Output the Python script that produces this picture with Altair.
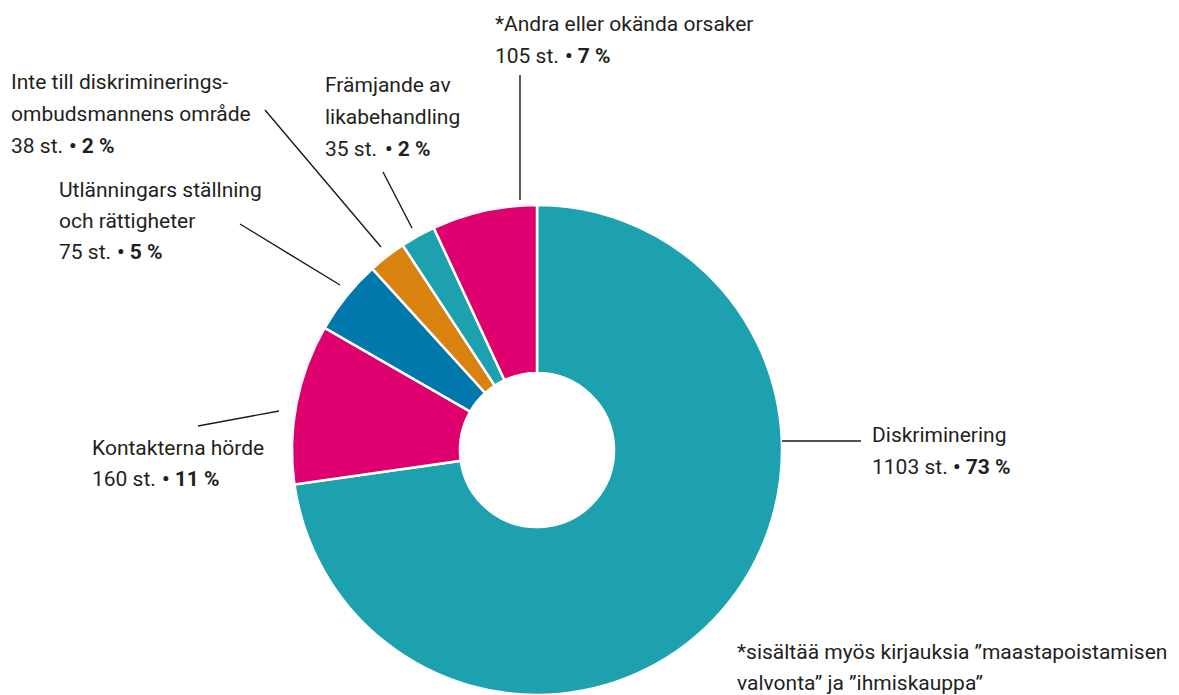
import altair as alt
import pandas as pd

# ---------------- data ----------------
categories = [
    "Diskriminering",
    "Kontakterna hörde",
    "Utlänningars ställning och rättigheter",
    "Inte till diskrimineringsombudsmannens område",
    "Främjande av likabehandling",
    "*Andra eller okända orsaker",
]
counts = [1103, 160, 75, 38, 35, 105]
percents = ["73 %", "11 %", "5 %", "2 %", "2 %", "7 %"]
label_lines = [
    ["Diskriminering"],
    ["Kontakterna hörde"],
    ["Utlänningars ställning", "och rättigheter"],
    ["Inte till diskriminerings-", "ombudsmannens område"],
    ["Främjande av", "likabehandling"],
    ["*Andra eller okända orsaker"],
]
footnote = [
    "*sisältää myös kirjauksia ”maastapoistamisen",
    "valvonta” ja ”ihmiskauppa”",
]

# ---------------- style / layout ----------------
colors = ["#1EA1AF", "#DE006F", "#0078AB", "#D9820F", "#1EA1AF", "#DE006F"]
TEXT_COLOR = "#231F20"
FONT = "Roboto"
FS = 21
M = 8                      # page margin
W, H = 1163, 687           # drawing size
CX, CY = 537 - M, 450 - M  # donut centre
R_OUT, R_IN = 245, 77

# label anchor (page coords): left x, baselines of each line, x of bullet + bold part
label_x = [872, 92, 59, 11, 325, 495]
label_base = [[442, 474], [455, 486], [197, 228, 259], [89, 121, 153], [92, 124, 156], [31, 63]]
bold_x = [953, 162, 117, 69, 385, 565]
# leader lines (page coords): start (at donut) -> end (at label)
leaders = [
    (782, 441, 861, 441),
    (279, 411, 198, 426),
    (340, 285, 240, 224),
    (381, 247, 265, 110),
    (412, 228, 383, 172),
    (520, 200, 520, 75),
]
foot_x = 737
foot_base = [659, 690]

# ---------------- tables ----------------
arc_df = pd.DataFrame({"cat": categories, "count": counts, "idx": list(range(len(categories)))})

reg_rows, bold_rows = [], []
for i, lines in enumerate(label_lines):
    all_lines = lines + [f"{counts[i]} st."]
    for j, t in enumerate(all_lines):
        reg_rows.append({"x": label_x[i] - M, "y": label_base[i][j] - M, "t": t})
    bold_rows.append({"x": bold_x[i] - M, "y": label_base[i][-1] - M, "t": "• " + percents[i]})
for j, t in enumerate(footnote):
    reg_rows.append({"x": foot_x - M, "y": foot_base[j] - M, "t": t})
reg_df = pd.DataFrame(reg_rows)
bold_df = pd.DataFrame(bold_rows)

rule_df = pd.DataFrame(
    [{"x": a - M, "y": b - M, "x2": c - M, "y2": d - M} for a, b, c, d in leaders]
)

xs = alt.X("x:Q", scale=alt.Scale(domain=[0, W], nice=False, zero=False), axis=None)
ys = alt.Y("y:Q", scale=alt.Scale(domain=[0, H], nice=False, zero=False, reverse=True), axis=None)

arcs = alt.Chart(arc_df).mark_arc(
    innerRadius=R_IN, outerRadius=R_OUT, stroke="white", strokeWidth=2.5
).encode(
    theta=alt.Theta("count:Q", stack=True),
    color=alt.Color("cat:N", scale=alt.Scale(domain=categories, range=colors), legend=None),
    order=alt.Order("idx:Q", sort="ascending"),
    x=alt.value(CX),
    y=alt.value(CY),
)

rules = alt.Chart(rule_df).mark_rule(color="#1A1A1A", strokeWidth=1.4).encode(
    x=xs, y=ys, x2="x2:Q", y2="y2:Q"
)

texts = alt.Chart(reg_df).mark_text(
    align="left", baseline="alphabetic", font=FONT, fontSize=FS, color=TEXT_COLOR
).encode(x=xs, y=ys, text="t:N")

bold = alt.Chart(bold_df).mark_text(
    align="left", baseline="alphabetic", font=FONT, fontSize=FS, fontWeight="bold", color=TEXT_COLOR
).encode(x=xs, y=ys, text="t:N")

chart = alt.layer(arcs, rules, texts, bold).properties(
    width=W, height=H, autosize=alt.AutoSizeParams(type="none"), padding=0
).configure_view(stroke=None)

chart.save("out.html", embed_options={"renderer": "svg", "actions": False})
